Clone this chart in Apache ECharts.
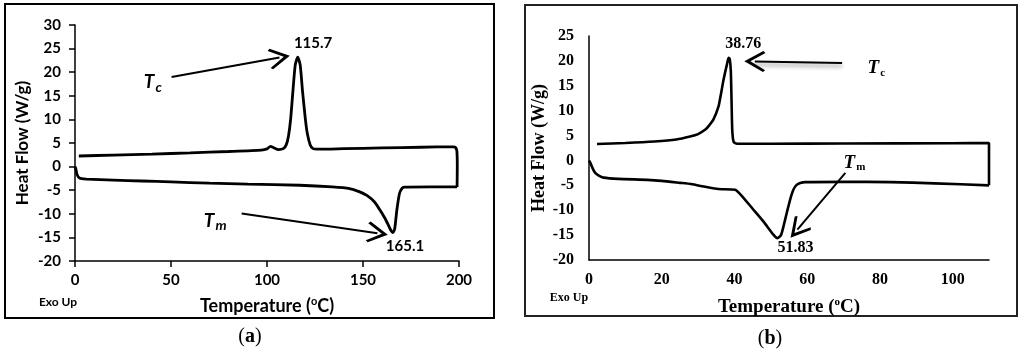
<!DOCTYPE html>
<html>
<head>
<meta charset="utf-8">
<script src="https://cdn.jsdelivr.net/npm/echarts@6/dist/echarts.min.js"></script>
<style>
  html, body { margin: 0; padding: 0; background: #fff; }
  #chart { width: 1024px; height: 357px; }
</style>
</head>
<body>
<div id="chart"></div>
<script>
// panel (a): heating run (lower curve) and cooling run (upper curve), [T, W/g]
const aHeating = [
  [0, 0], [0.5, -0.6], [1, -1.6], [2, -2.3], [3.5, -2.55], [6, -2.65], [20, -2.85],
  [35, -3.05], [50, -3.25], [70, -3.5], [90, -3.7], [117, -3.95], [134, -4.3],
  [143, -4.65], [148, -5.3], [152, -6.1], [156, -7.5], [159, -9.3], [161.5, -11],
  [163.2, -12.4], [164.5, -13.5], [165.5, -14], [166.5, -13.2], [167.6, -9.3],
  [169, -5.7], [170.3, -4.6], [171.5, -4.35], [185, -4.3], [199, -4.3]
]
const aCooling = [
  [199, -4.3], [199.1, 0], [198.9, 3.3], [198.2, 4.05], [197, 4.2], [180, 4.1],
  [160, 3.95], [140, 3.8], [126, 3.7], [124, 3.8], [122.5, 4.6], [121, 7], [120, 10],
  [118.5, 16], [117.3, 21.5], [116, 23.2], [114.7, 21.5], [113.5, 16], [112.3, 10],
  [111.2, 6.5], [110, 4.6], [108.5, 3.8], [106, 3.6], [103.5, 4.0], [101.8, 4.3],
  [100, 3.75], [97, 3.5], [80, 3.2], [60, 2.9], [40, 2.65], [20, 2.45], [2, 2.25]
]
// panel (b)
const bHeating = [
  [0, 0], [0.4, -0.5], [1, -1.6], [1.7, -2.5], [2.8, -3.1], [4, -3.45], [8, -3.7],
  [16, -3.9], [20, -4.1], [25, -4.5], [28, -4.75], [32, -5.3], [35.5, -5.75],
  [40.2, -5.9], [42, -7.1], [45, -9.7], [48, -12.3], [50.7, -14.9], [51.8, -15.6],
  [52.8, -15], [53.5, -13.2], [54.4, -10.5], [55.3, -7.9], [56.2, -5.9], [57.1, -4.9],
  [58.3, -4.5], [59.4, -4.35], [70, -4.3], [83, -4.35], [95, -4.6], [110, -5.0]
]
const bCooling = [
  [110, -5.0], [110, 3.5], [100, 3.45], [70, 3.4], [50, 3.35], [40.7, 3.35],
  [39.8, 3.7], [39.4, 6], [39.2, 12], [39, 18], [38.7, 20.4], [38.4, 20.6],
  [38.0, 19.5], [37, 16.2], [36.2, 13], [35.6, 10.8], [34.2, 8.2], [33, 7],
  [32, 6.2], [30, 5.3], [27.8, 4.8], [24, 4.2], [18, 3.8], [10, 3.5], [2.2, 3.3]
]
const aPeakLabels = ['115.7', '165.1']
const bPeakLabels = ['38.76', '51.83']

const sans = 'Lato'
const serif = 'Liberation Serif'
const chevron = 'path://M5,0 L10,8.6 L9.1,9.6 L5,2.8 L0.9,9.6 L0,8.6 Z'

function label(coord, text, rich) {
  return {
    coord: coord,
    symbolSize: 1,
    itemStyle: { color: 'rgba(0,0,0,0)' },
    label: { show: true, position: 'inside', formatter: text, rich: rich, color: '#000' }
  }
}

function arrow(from, to) {
  return [{ coord: from }, { coord: to }]
}

const aRich = {
  v: { fontFamily: sans, fontWeight: 'bold', fontSize: 15, color: '#000' },
  t: { fontFamily: sans, fontWeight: 'bold', fontStyle: 'italic', fontSize: 19, color: '#000' },
  s: { fontFamily: sans, fontWeight: 'bold', fontStyle: 'italic', fontSize: 14, color: '#000', padding: [10, 0, 0, 1] }
}
const bRich = {
  v: { fontFamily: serif, fontWeight: 'bold', fontSize: 16, color: '#000' },
  t: { fontFamily: serif, fontWeight: 'bold', fontStyle: 'italic', fontSize: 19, color: '#000' },
  s: { fontFamily: serif, fontWeight: 'bold', fontSize: 11, color: '#000', padding: [9, 0, 0, 1] }
}

function axisName(font, size) {
  return {
    color: '#000',
    fontFamily: font,
    fontWeight: 'bold',
    fontSize: size,
    rich: {
      n: { fontFamily: font, fontWeight: 'bold', fontSize: size, color: '#000' },
      o: { fontFamily: font, fontWeight: 'bold', fontSize: Math.round(size * 0.6), color: '#000', padding: [0, 0, 9, 0] }
    }
  }
}

function arrows(data, extraStyle) {
  return {
    silent: true,
    symbol: ['none', chevron],
    symbolSize: 21,
    label: { show: false },
    lineStyle: Object.assign({ color: '#000', width: 2, type: 'solid' }, extraStyle || {}),
    itemStyle: { color: '#000' },
    data: data
  }
}

const chart = echarts.init(document.getElementById('chart'))
chart.setOption({
  animation: false,
  grid: [
    { left: 75, top: 25, width: 384, height: 236, outerBoundsMode: 'none' },
    { left: 589, top: 36, width: 400, height: 224, outerBoundsMode: 'none' }
  ],
  xAxis: [
    {
      gridIndex: 0, type: 'value', min: 0, max: 200, interval: 50,
      axisLine: { onZero: false, lineStyle: { color: '#000', width: 1.5 } },
      axisTick: { show: true, length: 6, lineStyle: { color: '#000', width: 1.5 } },
      splitLine: { show: false },
      axisLabel: { color: '#000', fontFamily: sans, fontWeight: 'bold', fontSize: 15, margin: 12 },
      name: '{n|Temperature (}{o|o}{n|C)}', nameLocation: 'middle', nameGap: 35,
      nameTextStyle: axisName(sans, 18)
    },
    {
      gridIndex: 1, type: 'value', min: 0, max: 110, interval: 20,
      axisLine: { onZero: false, lineStyle: { color: '#000', width: 1.5 } },
      axisTick: { show: false },
      splitLine: { show: false },
      axisLabel: { color: '#000', fontFamily: serif, fontWeight: 'bold', fontSize: 16, margin: 12, showMaxLabel: false },
      name: '{n|Temperature (}{o|o}{n|C)}', nameLocation: 'middle', nameGap: 37,
      nameTextStyle: axisName(serif, 19)
    }
  ],
  yAxis: [
    {
      gridIndex: 0, type: 'value', min: -20, max: 30, interval: 5,
      axisLine: { show: true, onZero: false, lineStyle: { color: '#000', width: 1.5 } },
      axisTick: { show: true, length: 6, lineStyle: { color: '#000', width: 1.5 } },
      splitLine: { show: false },
      axisLabel: { color: '#000', fontFamily: sans, fontWeight: 'bold', fontSize: 15, margin: 14 },
      name: 'Heat Flow (W/g)', nameLocation: 'middle', nameGap: 44,
      nameTextStyle: axisName(sans, 17)
    },
    {
      gridIndex: 1, type: 'value', min: -20, max: 25, interval: 5,
      axisLine: { show: true, onZero: false, lineStyle: { color: '#000', width: 1.5 } },
      axisTick: { show: false },
      splitLine: { show: false },
      axisLabel: { color: '#000', fontFamily: serif, fontWeight: 'bold', fontSize: 16, margin: 15 },
      name: 'Heat Flow (W/g)', nameLocation: 'middle', nameGap: 40,
      nameTextStyle: axisName(serif, 18)
    }
  ],
  series: [
    {
      name: 'a heating', type: 'line', xAxisIndex: 0, yAxisIndex: 0,
      data: aHeating, showSymbol: false, symbol: 'none', smooth: 0.2,
      lineStyle: { color: '#000', width: 2.8 },
      markLine: arrows([arrow([86.8, -9.95], [157.5, -14.1])]),
      markPoint: {
        silent: true,
        data: [
          label([73, -11.6], '{t|T}{s|m}', aRich),
          label([171.9, -17.0], '{v|' + aPeakLabels[1] + '}', aRich)
        ]
      }
    },
    {
      name: 'a cooling', type: 'line', xAxisIndex: 0, yAxisIndex: 0,
      data: aCooling, showSymbol: false, symbol: 'none', smooth: 0.2,
      lineStyle: { color: '#000', width: 2.8 },
      markLine: arrows([arrow([50.3, 19.0], [106.5, 23.1])]),
      markPoint: {
        silent: true,
        data: [
          label([40.5, 17.8], '{t|T}{s|c}', aRich),
          label([124, 26.1], '{v|' + aPeakLabels[0] + '}', aRich)
        ]
      }
    },
    {
      name: 'b heating', type: 'line', xAxisIndex: 1, yAxisIndex: 1,
      data: bHeating, showSymbol: false, symbol: 'none', smooth: 0.2,
      lineStyle: { color: '#000', width: 2.6 },
      markLine: arrows([arrow([70.5, -2.5], [57.3, -13.9])]),
      markPoint: {
        silent: true,
        data: [
          label([73, -0.6], '{t|T}{s|m}', bRich),
          label([56.8, -17.6], '{v|' + bPeakLabels[1] + '}', bRich)
        ]
      }
    },
    {
      name: 'b cooling', type: 'line', xAxisIndex: 1, yAxisIndex: 1,
      data: bCooling, showSymbol: false, symbol: 'none', smooth: 0.2,
      lineStyle: { color: '#000', width: 2.6 },
      markLine: arrows([arrow([69.6, 19.6], [45.6, 19.9])],
        { shadowBlur: 4, shadowColor: 'rgba(0,0,0,0.45)', shadowOffsetY: 3 }),
      markPoint: {
        silent: true,
        data: [
          label([79, 18.4], '{t|T}{s|c}', bRich),
          label([42.4, 23.4], '{v|' + bPeakLabels[0] + '}', bRich)
        ]
      }
    }
  ],
  graphic: [
    { type: 'rect', shape: { x: 5, y: 4, width: 489, height: 314 }, style: { fill: 'none', stroke: '#000', lineWidth: 2 }, silent: true },
    { type: 'rect', shape: { x: 525, y: 5, width: 492, height: 311 }, style: { fill: 'none', stroke: '#222', lineWidth: 2 }, silent: true },
    { type: 'text', x: 58, y: 302, style: { text: 'Exo Up', fontFamily: sans, fontWeight: 'bold', fontSize: 12, fill: '#000', align: 'center', verticalAlign: 'middle' } },
    { type: 'text', x: 569, y: 298, style: { text: 'Exo Up', fontFamily: serif, fontWeight: 'bold', fontSize: 12, fill: '#000', align: 'center', verticalAlign: 'middle' } },
    {
      type: 'text', x: 250, y: 337,
      style: {
        text: '{p|(}{l|a}{p|)}', align: 'center', verticalAlign: 'middle',
        rich: { p: { fontFamily: serif, fontSize: 20, fill: '#000' }, l: { fontFamily: serif, fontWeight: 'bold', fontSize: 20, fill: '#000' } }
      }
    },
    {
      type: 'text', x: 770, y: 339,
      style: {
        text: '{p|(}{l|b}{p|)}', align: 'center', verticalAlign: 'middle',
        rich: { p: { fontFamily: serif, fontSize: 20, fill: '#000' }, l: { fontFamily: serif, fontWeight: 'bold', fontSize: 20, fill: '#000' } }
      }
    }
  ]
})
</script>
</body>
</html>
